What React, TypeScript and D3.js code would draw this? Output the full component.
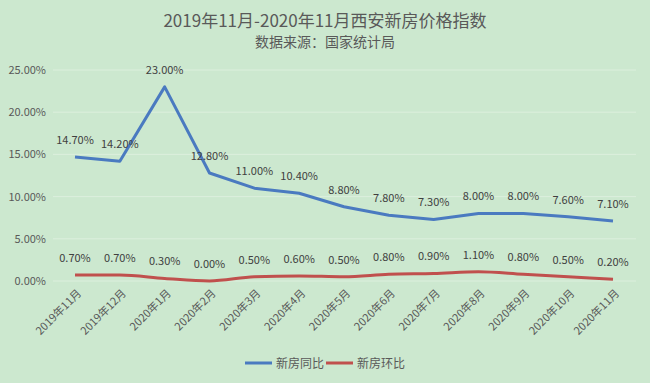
import React from "react";
import * as d3 from "d3";

const categories = ["2019年11月","2019年12月","2020年1月","2020年2月","2020年3月","2020年4月","2020年5月","2020年6月","2020年7月","2020年8月","2020年9月","2020年10月","2020年11月"];
const yoy = [14.7, 14.2, 23.0, 12.8, 11.0, 10.4, 8.8, 7.8, 7.3, 8.0, 8.0, 7.6, 7.1];
const mom = [0.7, 0.7, 0.3, 0.0, 0.5, 0.6, 0.5, 0.8, 0.9, 1.1, 0.8, 0.5, 0.2];
const yTicks = [0, 5, 10, 15, 20, 25];
const seriesNames = ["新房同比", "新房环比"];

const W = 650, H = 383;
const font = "'Noto Sans CJK SC', 'Microsoft YaHei', sans-serif";

export default function App() {
  const x = d3.scalePoint<string>().domain(categories).range([75, 613]);
  const y = d3.scaleLinear().domain([0, 25]).range([281, 70]);
  const line = d3.line<number>().x((_, i) => x(categories[i])!).y(d => y(d)).curve(d3.curveLinear);
  const lineR = d3.line<number>().x((_, i) => x(categories[i])!).y(d => y(d)).curve(d3.curveMonotoneX);
  const fmt = (v: number) => v.toFixed(2) + "%";
  return (
    <svg width={W} height={H} style={{ position: "absolute", left: 0, top: 0, fontFamily: font }}>
      <rect x={0} y={0} width={W} height={H} fill="#cce8cf" />
      <text x={325} y={27} textAnchor="middle" fontSize={17} fill="#595959">2019年11月-2020年11月西安新房价格指数</text>
      <text x={325} y={47} textAnchor="middle" fontSize={14} fill="#595959">数据来源：国家统计局</text>
      {yTicks.map(t => (
        <g key={t}>
          <line x1={53} x2={636} y1={y(t)} y2={y(t)} stroke="#dcefdd" strokeWidth={1} />
          <text x={46} y={y(t) + 4} textAnchor="end" fontSize={11} fill="#595959">{fmt(t)}</text>
        </g>
      ))}
      {categories.map(c => (
        <text key={c} transform={`translate(${x(c)! + 7},${294}) rotate(-45)`} textAnchor="end" fontSize={11} fill="#595959">{c}</text>
      ))}
      <path d={line(yoy)!} fill="none" stroke="#4a7ac0" strokeWidth={3} strokeLinejoin="round" />
      <path d={lineR(mom)!} fill="none" stroke="#c0504d" strokeWidth={3} strokeLinejoin="round" />
      {yoy.map((v, i) => (
        <text key={"a" + i} x={x(categories[i])} y={y(v) - 13} textAnchor="middle" fontSize={11} fill="#404040">{fmt(v)}</text>
      ))}
      {mom.map((v, i) => (
        <text key={"b" + i} x={x(categories[i])} y={y(v) - 13} textAnchor="middle" fontSize={11} fill="#404040">{fmt(v)}</text>
      ))}
      <line x1={245} x2={272} y1={363} y2={363} stroke="#4a7ac0" strokeWidth={3} />
      <text x={276} y={367.5} fontSize={12} fill="#595959">{seriesNames[0]}</text>
      <line x1={326} x2={353} y1={363} y2={363} stroke="#c0504d" strokeWidth={3} />
      <text x={357} y={367.5} fontSize={12} fill="#595959">{seriesNames[1]}</text>
    </svg>
  );
}
